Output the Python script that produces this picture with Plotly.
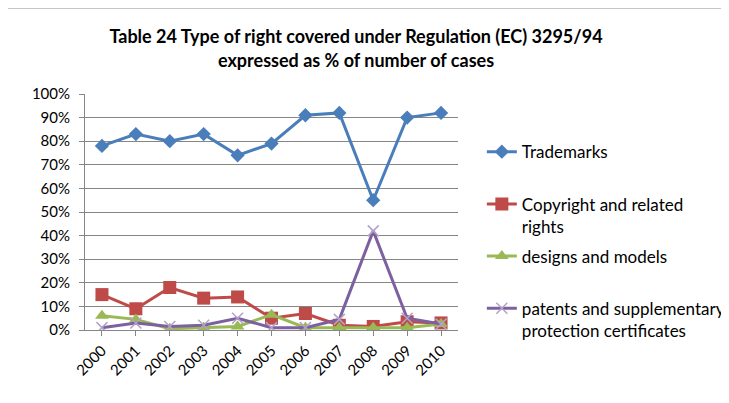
import plotly.graph_objects as go

years = ["2000", "2001", "2002", "2003", "2004", "2005", "2006", "2007", "2008", "2009", "2010"]
trademarks = [78, 83, 80, 83, 74, 79, 91, 92, 55, 90, 92]
copyright_rights = [15, 9, 18, 13.5, 14, 5, 7, 2, 1.5, 3.5, 3]
designs_models = [6, 4.5, 0.5, 1, 1.5, 6.5, 1, 1, 1, 1, 2.5]
patents = [1, 3, 1.5, 2, 5, 1, 1, 4.5, 42, 5, 2.5]

names = ["Trademarks<br> ", "Copyright and related<br>rights", "designs and models<br> ",
         "patents and supplementary<br>protection certificates"]
series = [trademarks, copyright_rights, designs_models, patents]
line_colors = ["#4A7EBB", "#BE4B48", "#98B954", "#7D60A0"]
marker_symbols = ["diamond", "square", "triangle-up", "x-thin-open"]
marker_colors = ["#4A7EBB", "#BE4B48", "#98B954", "#B3A2C7"]
marker_sizes = [11, 13, 12, 11]

font = "Lato, 'Open Sans', sans-serif"

fig = go.Figure()
for i, (n, s) in enumerate(zip(names, series)):
    marker = dict(symbol=marker_symbols[i], size=marker_sizes[i], color=marker_colors[i])
    if marker_symbols[i].endswith("open"):
        marker["line"] = dict(color=marker_colors[i], width=1.5)
    fig.add_trace(go.Scatter(
        x=years, y=s, name=n, mode="lines+markers",
        line=dict(color=line_colors[i], width=3),
        marker=marker, legendgroup=str(i)))

fig.update_layout(
    width=729, height=403,
    margin=dict(l=77, r=279, t=86, b=81, autoexpand=False),
    paper_bgcolor="white", plot_bgcolor="white",
    font=dict(family=font, color="#000000", size=15),
    title=dict(text="<b>Table 24 Type of right covered under Regulation (EC) 3295/94<br>expressed as % of number of cases</b>",
               x=0.4774, xanchor="center", y=0.9125, yanchor="middle",
               font=dict(size=18, family=font)),
    showlegend=True,
    legend=dict(xref="container", yref="container", x=0.650, xanchor="left", y=0.687, yanchor="top",
                font=dict(size=17, family=font), valign="top", maxheight=300,
                tracegroupgap=5, itemwidth=30, bgcolor="rgba(0,0,0,0)"),
    shapes=[dict(type="line", xref="paper", yref="paper", x0=-0.3, x1=1.8, y0=1.364, y1=1.364,
                 line=dict(color="#A0A0A0", width=1))],
)
fig.update_xaxes(type="category", showline=True, linecolor="#868686", linewidth=1,
                 ticks="outside", ticklen=5, tickcolor="#868686", tickangle=-45,
                 showgrid=False, tickfont=dict(size=15), range=[-0.5, 10.5])
fig.update_yaxes(range=[0, 100], dtick=10, ticksuffix="%", showline=True, linecolor="#868686",
                 linewidth=1, ticks="outside", ticklen=5, tickcolor="#868686",
                 showgrid=True, gridcolor="#868686", gridwidth=1, zeroline=False,
                 tickfont=dict(size=15), ticklabelstandoff=6)

fig.write_html("out.html")
